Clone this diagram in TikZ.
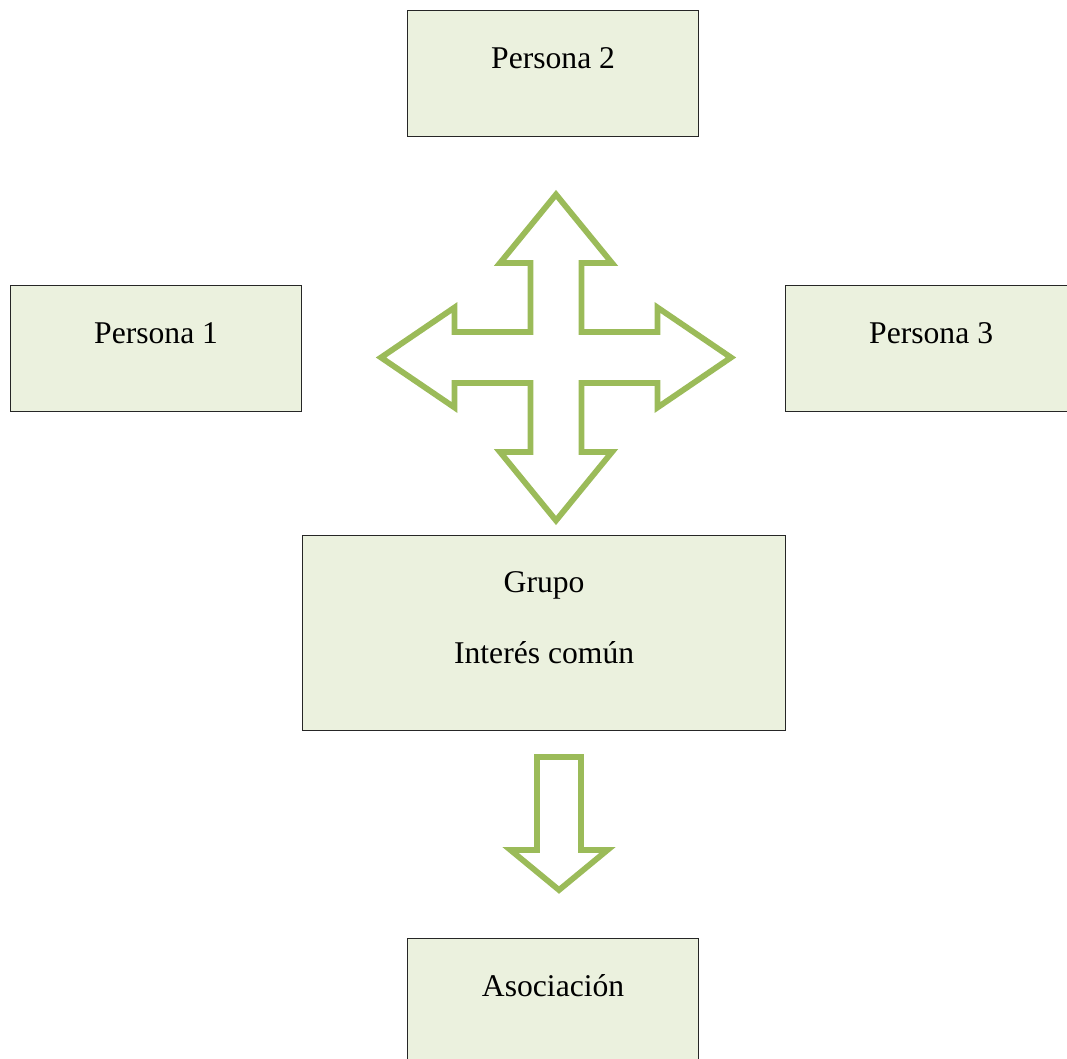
\documentclass[tikz,border=0pt]{standalone}
\usepackage{fontspec}
\setmainfont{Liberation Serif}
\definecolor{verdeflecha}{HTML}{9BBB59}
\definecolor{fondocaja}{HTML}{EBF1DE}
\tikzset{
	caja/.style={draw=black!85, line width=0.7pt, fill=fondocaja, inner sep=0pt, minimum width=5.82cm, text height=1.16cm, text depth=1.36cm, anchor=north west},
	flecha/.style={draw=verdeflecha, line width=3.3pt, line join=miter}
}
\begin{document}
\begin{tikzpicture}[font=\fontsize{18}{22}\selectfont]
	\useasboundingbox (0,0) rectangle (21.34,-21.16);
	\clip (0,0) rectangle (21.34,-21.16);
	% Cajas
	\node[caja] (P2) at (8.14,-0.2) {Persona 2};
	\node[caja] (P1) at (0.2,-5.7) {Persona 1};
	\node[caja] (P3) at (15.7,-5.7) {Persona 3};
	\node[caja, minimum width=9.66cm, text height=1.14cm, text depth=2.76cm] (G) at (6.04,-10.7) {Grupo};
	\node[anchor=base, inner sep=0pt] (I) at ([yshift=-1.42cm]G.base) {Interés común};
	\node[caja] (A) at (8.14,-18.76) {Asociación};
	% Flecha de cuatro puntas
	\coordinate (C) at (11.12,-7.15);
	\def\s{0.51} % medio ancho del tronco
	\def\hv{1.12} % medio ancho punta vertical
	\def\hh{1.0} % medio ancho punta horizontal
	\def\bv{1.89} % base punta vertical
	\def\bh{2.03} % base punta horizontal
	\def\tv{3.26} % punta vertical
	\def\th{3.5} % punta horizontal
	\draw[flecha, shift={(C)}] (0,\tv)--(\hv,\bv)--(\s,\bv)--(\s,\s)--(\bh,\s)--(\bh,\hh)--(\th,0)--(\bh,-\hh)--(\bh,-\s)--(\s,-\s)--(\s,-\bv)--(\hv,-\bv)--(0,-\tv)--(-\hv,-\bv)--(-\s,-\bv)--(-\s,-\s)--(-\bh,-\s)--(-\bh,-\hh)--(-\th,0)--(-\bh,\hh)--(-\bh,\s)--(-\s,\s)--(-\s,\bv)--(-\hv,\bv)--cycle;
	% Flecha hacia abajo
	\coordinate (D) at (11.18,-15.14);
	\draw[flecha, shift={(D)}] (-0.44,0)--(0.44,0)--(0.44,-1.86)--(0.97,-1.86)--(0,-2.66)--(-0.97,-1.86)--(-0.44,-1.86)--cycle;
\end{tikzpicture}
\end{document}
